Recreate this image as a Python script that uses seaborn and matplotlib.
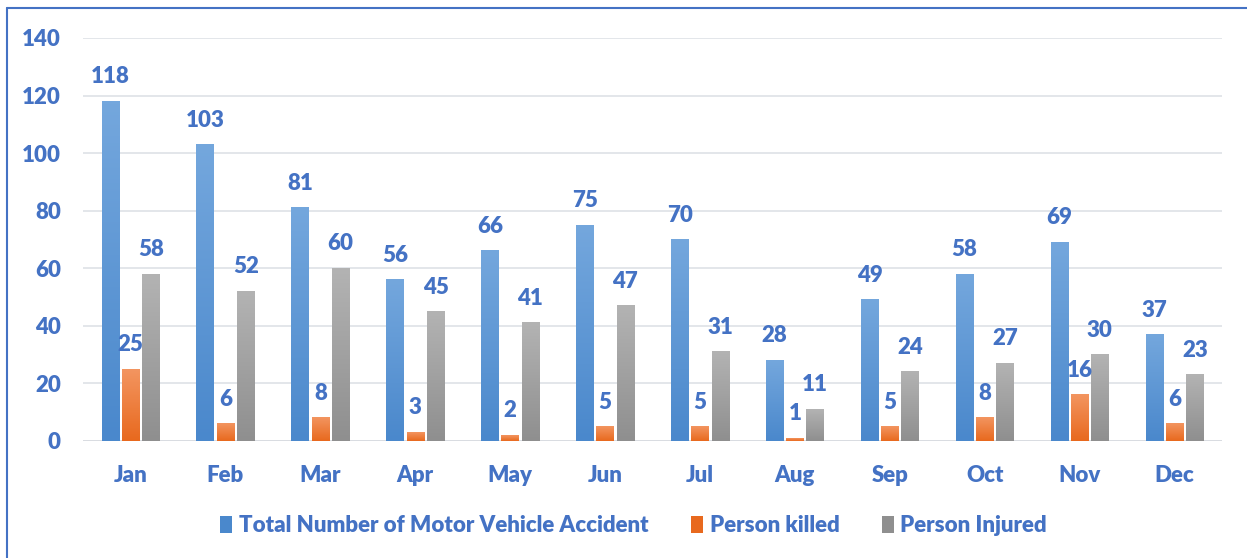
import numpy as np
import pandas as pd
import seaborn as sns
import matplotlib.pyplot as plt
from matplotlib.colors import LinearSegmentedColormap
from matplotlib.lines import Line2D
from matplotlib.patches import Patch

months = ["Jan", "Feb", "Mar", "Apr", "May", "Jun", "Jul", "Aug", "Sep", "Oct", "Nov", "Dec"]
total_accidents = [118, 103, 81, 56, 66, 75, 70, 28, 49, 58, 69, 37]
person_killed = [25, 6, 8, 3, 2, 5, 5, 1, 5, 8, 16, 6]
person_injured = [58, 52, 60, 45, 41, 47, 31, 11, 24, 27, 30, 23]

series_names = ["Total Number of Motor Vehicle Accident", "Person killed", "Person Injured"]
# (top colour, bottom colour) for the gradient fill
series_colors = [("#74a7dd", "#4a88cc"), ("#f39560", "#e8691e"), ("#b3b3b3", "#8f8f8f")]
text_blue = "#4472c4"

df = pd.DataFrame({
    "month": months * 3,
    "series": np.repeat(series_names, len(months)),
    "value": total_accidents + person_killed + person_injured,
})

sns.set_style("white")
plt.rcParams["font.family"] = ["Lato", "DejaVu Sans"]

fig = plt.figure(figsize=(12.47, 5.58), dpi=100)
ax = fig.add_axes([0.0666, 0.2097, 0.9134, 0.7223])

palette = {n: c[1] for n, c in zip(series_names, series_colors)}
sns.barplot(data=df, x="month", y="value", hue="series", hue_order=series_names,
            palette=palette, width=0.64, gap=0.14, ax=ax, legend=False,
            saturation=1, linewidth=0)

ax.set_ylim(0, 140)
ax.set_xlim(-0.5, 11.5)
ax.set_yticks(range(0, 141, 20))
ax.yaxis.grid(True, color="#e1e4e8", linewidth=1.3)
ax.set_axisbelow(True)
for s in ax.spines.values():
    s.set_visible(False)
ax.set_xlabel("")
ax.set_ylabel("")
ax.tick_params(axis="both", length=0, labelsize=16, labelcolor=text_blue)
ax.tick_params(axis="x", pad=17)
ax.tick_params(axis="y", pad=16)
for lbl in ax.get_xticklabels() + ax.get_yticklabels():
    lbl.set_fontweight("heavy")

# gradient fill over each bar, and value labels
for cont, (top, bot) in zip(ax.containers, series_colors):
    cmap = LinearSegmentedColormap.from_list("g", [bot, top])
    grad = np.linspace(0, 1, 100).reshape(-1, 1)
    for bar in cont:
        x0 = bar.get_x()
        w = bar.get_width()
        h = bar.get_height()
        bar.set_alpha(0)
        ax.imshow(grad, cmap=cmap, origin="lower", aspect="auto",
                  extent=(x0, x0 + w, 0, h), zorder=2, interpolation="bicubic")
    ax.bar_label(cont, padding=10, color=text_blue, fontsize=16, fontweight="heavy")

ax.set_ylim(0, 140)
ax.set_xlim(-0.5, 11.5)
ax.axhline(0, color="#d9dce1", linewidth=1.3, zorder=1)

handles = [Patch(facecolor=c[1], edgecolor="none") for c in series_colors]
fig.legend(handles, series_names, loc="center", bbox_to_anchor=(0.508, 0.058), ncol=3,
           frameon=False, handlelength=0.55, handleheight=0.85, handletextpad=0.3,
           columnspacing=1.9, prop={"size": 16, "weight": "heavy"}, labelcolor=text_blue)

# chart frame (top and left edges visible)
fig.add_artist(Line2D([7 / 1247, 1], [1 - 8 / 558, 1 - 8 / 558], color="#4472c4", linewidth=1.5))
fig.add_artist(Line2D([7 / 1247, 7 / 1247], [0, 1 - 8 / 558], color="#4472c4", linewidth=1.5))

fig.savefig("out.png", dpi=100)
